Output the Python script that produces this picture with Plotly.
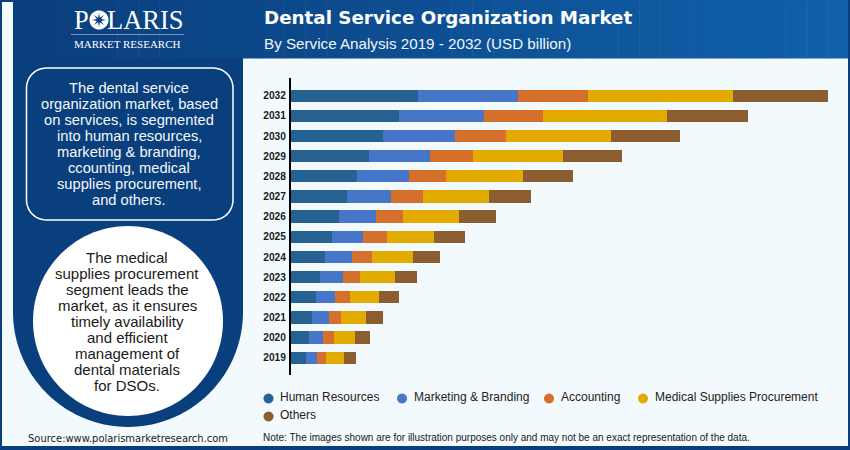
import math
import plotly.graph_objects as go

years = ["2019","2020","2021","2022","2023","2024","2025","2026","2027","2028","2029","2030","2031","2032"]
human_resources = [1.50,1.83,2.16,2.53,2.96,3.43,4.10,4.80,5.63,6.66,7.83,9.20,10.83,12.76]
marketing_branding = [1.16,1.40,1.67,1.93,2.30,2.73,3.16,3.76,4.40,5.17,6.10,7.20,8.50,9.97]
accounting = [0.87,1.10,1.20,1.47,1.67,1.97,2.37,2.67,3.20,3.70,4.30,5.10,5.90,7.00]
medical_supplies = [1.83,2.13,2.53,2.93,3.50,4.10,4.70,5.60,6.57,7.67,9.03,10.53,12.43,14.50]
others = [1.17,1.44,1.67,1.97,2.23,2.67,3.13,3.67,4.23,5.03,5.90,6.90,8.07,9.53]

series_names = ["Human Resources","Marketing &amp; Branding","Accounting","Medical Supplies Procurement","Others"]
series_values = [human_resources, marketing_branding, accounting, medical_supplies, others]
series_colors = ["#256291","#4775C8","#D46F2C","#E3AB00","#8C5D30"]

W, H = 850, 450
def px(x): return x / W
def py(y): return 1 - y / H

NAVY = "#0A3F7E"
fig = go.Figure()
for name, vals, col in zip(series_names, series_values, series_colors):
    fig.add_trace(go.Bar(y=years, x=vals, name=name, orientation="h",
                         marker=dict(color=col, line=dict(width=0)), showlegend=False,
                         hovertemplate="%{y}: %{x}<extra>" + name + "</extra>"))

shapes = []
def rect(x0, y0, x1, y1, color):
    shapes.append(dict(type="rect", xref="paper", yref="paper", x0=px(x0), x1=px(x1),
                       y0=py(y1), y1=py(y0), fillcolor=color, line=dict(width=0), layer="below"))

def path(d, fill, line=None):
    shapes.append(dict(type="path", xref="paper", yref="paper", path=d, fillcolor=fill,
                       line=dict(width=line[1], color=line[0]) if line else dict(width=0), layer="below"))

def lerp(c0, c1, t):
    return "rgb(%d,%d,%d)" % tuple(round(a + (b - a) * t) for a, b in zip(c0, c1))

def arc(cx, cy, r, a0, a1, n=60):
    pts = []
    for i in range(n + 1):
        a = math.radians(a0 + (a1 - a0) * i / n)
        pts.append((px(cx + r * math.cos(a)), py(cy + r * math.sin(a))))
    return pts

def poly(pts):
    return "M " + " L ".join(f"{a:.5f},{b:.5f}" for a, b in pts) + " Z"

def round_rect(x0, y0, x1, y1, r):
    pts = arc(x1 - r, y0 + r, r, -90, 0, 12) + arc(x1 - r, y1 - r, r, 0, 90, 12) \
        + arc(x0 + r, y1 - r, r, 90, 180, 12) + arc(x0 + r, y0 + r, r, 180, 270, 12)
    return poly(pts)

def star(cx, cy, r0, r1, n=8):
    pts = []
    for i in range(2 * n):
        r = r0 if i % 2 == 0 else r1
        a = math.pi * i / n - math.pi / 2
        pts.append((px(cx + r * math.cos(a)), py(cy + r * math.sin(a))))
    return poly(pts)

rect(0, 0, 850, 450, NAVY)
rect(2, 2, 848, 446, "#F3FAFD")
steps = 40
for i in range(steps):
    x0 = 13 + (848 - 13) * i / steps
    x1 = 13 + (848 - 13) * (i + 1) / steps + 0.5
    rect(x0, 0, min(x1, 850), 58.5, lerp((10, 62, 124), (16, 96, 170), i / (steps - 1)))
rect(848, 0, 850, 450, NAVY)
rect(13, 58, 243, 312, NAVY)
path(poly(arc(128, 312, 115, 0, 180)), NAVY)
path(poly(arc(128, 321, 95, 0, 360, 120)), "#FFFFFF")
path(round_rect(26.5, 68, 233, 220, 20), NAVY, ("#FFFFFF", 1.5))
path(poly([(px(71), py(34)), (px(184), py(34)), (px(184), py(34.6)), (px(71), py(34.6))]), "#DDE6F0")
path(poly(arc(99, 20, 9.5, 0, 360, 48)), "#FFFFFF")
path(star(99, 20, 7, 2.4), NAVY)

anns = []
def text(x, y, s, size, color="#FFFFFF", family="Liberation Sans", anchor="center", bold=False):
    if bold:
        s = "<b>" + s + "</b>"
    anns.append(dict(x=px(x), y=py(y), xref="paper", yref="paper", text=s, showarrow=False,
                     font=dict(size=size, color=color, family=family), xanchor=anchor,
                     yanchor="middle", align="center", xshift=-2 if anchor == "left" else 0))

text(81.5, 20, "P", 26.5, family="Liberation Serif")
text(145.5, 20, "LARIS", 26.5, family="Liberation Serif")
text(128, 43.5, "MARKET RESEARCH", 11, family="Liberation Serif")
text(264, 17, "Dental Service Organization Market", 18.3, family="DejaVu Sans", anchor="left", bold=True)
text(264, 44, "By Service Analysis 2019 - 2032 (USD billion)", 15.2, anchor="left", color="#F0F5FA")

box_lines = ["The dental service","organization market, based","on services, is segmented","into human resources,",
             "marketing &amp; branding,","ccounting, medical","supplies procurement,","and others."]
for i, t in enumerate(box_lines):
    text(129, 88 + i * 16, t, 14.7, color="#F4F7FA")
circle_lines = ["The medical","supplies procurement","segment leads the","market, as it ensures",
                "timely availability","and efficient","management of","dental materials","for DSOs."]
for i, t in enumerate(circle_lines):
    text(127, 257 + i * 16, t, 15, color="#1A1A1A")

text(28, 438, "Source:www.polarismarketresearch.com", 9.95, color="#222222", anchor="left", family="DejaVu Sans")
text(263, 437.5, "Note: The images shown are for illustration purposes only and may not be an exact representation of the data.", 10, color="#1A1A1A", anchor="left")

legend_cx = [268.5, 402, 549, 643, 268.5]
legend_tx = [280, 413.5, 560.5, 654.5, 280]
legend_y = [398, 398, 398, 398, 416]
for name, col, cx, cy, t in zip(series_names, series_colors, legend_cx, legend_y, legend_tx):
    path(poly(arc(cx, cy + 0.5, 5, 0, 360, 24)), col)
    text(t, cy - 1, name, 12, color="#222222", anchor="left")

fig.update_layout(
    width=W, height=H, margin=dict(l=0, r=0, t=0, b=0), autosize=False,
    barmode="stack", bargap=0.39, showlegend=False,
    paper_bgcolor="#F3FAFD", plot_bgcolor="rgba(0,0,0,0)",
    shapes=shapes, annotations=anns,
    xaxis=dict(domain=[px(290.7), px(840)], range=[0, 54.93], visible=False, showgrid=False, zeroline=False),
    yaxis=dict(domain=[py(375), py(78)], type="category", categoryorder="array", categoryarray=years,
               range=[-0.86, 13.88], showgrid=False, zeroline=False, showline=True, linecolor="#000000",
               linewidth=1.5, ticks="", tickfont=dict(size=10.2, family="Liberation Sans", color="#1A1A1A", weight="bold"),
               ticklabelstandoff=1),
)
fig.write_html("out.html", config=dict(displayModeBar=False),
               post_script="document.body.style.margin='0';document.documentElement.style.overflow='hidden';")
